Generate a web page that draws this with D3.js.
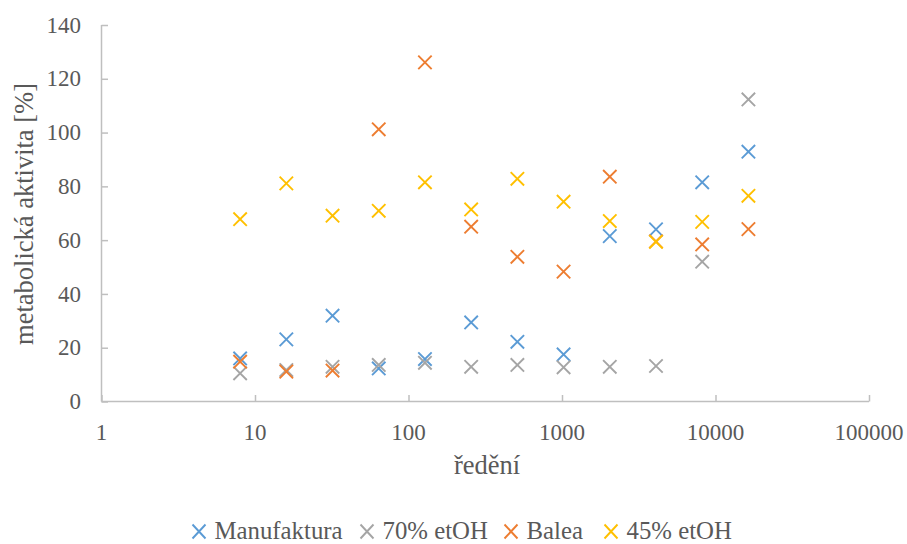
<!DOCTYPE html>
<html>
<head>
<meta charset="utf-8">
<script src="https://cdn.jsdelivr.net/npm/d3@7/dist/d3.min.js"></script>
<style>
  html, body { margin: 0; padding: 0; background: #fff; }
  svg { display: block; }
  text { font-family: "Liberation Serif", "Times New Roman", serif; fill: #595959; }
</style>
</head>
<body>
<svg id="chart" width="907" height="544"></svg>
<script>
// Dilution factors (x) and metabolic activity in % (y) per sample
const dilutions   = [8, 16, 32, 64, 128, 256, 512, 1024, 2048, 4096, 8192, 16384];
const manufaktura = [16.0, 23.1, 31.9, 12.3, 15.8, 29.4, 22.2, 17.5, 61.5, 64.0, 81.5, 92.9];
const etoh70      = [10.5, 11.7, 12.9, 13.6, 14.4, 12.9, 13.6, 12.7, 12.9, 13.2, 52.0, 112.3];
const balea       = [14.8, 11.1, 11.5, 101.2, 126.1, 65.0, 53.8, 48.3, 83.6, 59.5, 58.4, 64.1];
const etoh45      = [67.8, 81.1, 69.1, 70.9, 81.5, 71.4, 82.8, 74.3, 67.1, 59.4, 66.8, 76.5];

const seriesNames  = ["Manufaktura", "70% etOH", "Balea", "45% etOH"];
const seriesColors = ["#5B9BD5", "#A5A5A5", "#ED7D31", "#FFC000"];
const seriesValues = [manufaktura, etoh70, balea, etoh45];

const xTicks = [1, 10, 100, 1000, 10000, 100000];
const yTicks = [0, 20, 40, 60, 80, 100, 120, 140];

const svg = d3.select("#chart");
const x = d3.scaleLog().domain([1, 100000]).range([101.5, 869]);
const y = d3.scaleLinear().domain([0, 140]).range([401.5, 25]);

const axisColor = "#BFBFBF";
const tickFont = "23px";
const titleFont = "26.5px";
const legendFont = "24.8px";

// y axis: line, inward ticks, labels
const yAxis = svg.append("g").attr("transform", `translate(${x.range()[0]},0)`)
  .call(d3.axisRight(y).tickValues(yTicks).tickSize(6.5).tickFormat(""));
yAxis.select(".domain").remove();
yAxis.selectAll("line").attr("stroke", axisColor).attr("stroke-width", 1.5);
svg.append("line")
  .attr("x1", x.range()[0]).attr("x2", x.range()[0])
  .attr("y1", y(140)).attr("y2", y(0))
  .attr("stroke", axisColor).attr("stroke-width", 1.5);
svg.append("g").selectAll("text").data(yTicks).join("text")
  .attr("x", 81).attr("y", d => y(d))
  .attr("dy", "0.33em")
  .attr("text-anchor", "end")
  .style("font-size", tickFont)
  .text(d => d);

// x axis: line, inward ticks, labels
const xAxis = svg.append("g").attr("transform", `translate(0,${y.range()[0]})`)
  .call(d3.axisTop(x).tickValues(xTicks).tickSize(6.5).tickFormat(""));
xAxis.select(".domain").remove();
xAxis.selectAll("line").attr("stroke", axisColor).attr("stroke-width", 1.5);
svg.append("line")
  .attr("x1", x.range()[0]).attr("x2", x.range()[1])
  .attr("y1", y(0)).attr("y2", y(0))
  .attr("stroke", axisColor).attr("stroke-width", 1.5);
svg.append("g").selectAll("text").data(xTicks).join("text")
  .attr("x", d => x(d)).attr("y", 440)
  .attr("text-anchor", "middle")
  .style("font-size", tickFont)
  .text(d => d);

// axis titles
svg.append("text")
  .attr("x", 487).attr("y", 474)
  .attr("text-anchor", "middle")
  .style("font-size", titleFont)
  .text("ředění");
svg.append("text")
  .attr("transform", "translate(33,214) rotate(-90)")
  .attr("text-anchor", "middle")
  .style("font-size", titleFont)
  .text("metabolická aktivita [%]");

// cross marker path centred on 0,0
const r = 6.7;
const crossPath = `M${-r},${-r}L${r},${r}M${-r},${r}L${r},${-r}`;

// scatter series
seriesValues.forEach((vals, i) => {
  svg.append("g").selectAll("path")
    .data(dilutions.map((d, j) => [d, vals[j]]))
    .join("path")
    .attr("transform", d => `translate(${x(d[0])},${y(d[1])})`)
    .attr("d", crossPath)
    .attr("fill", "none")
    .attr("stroke", seriesColors[i])
    .attr("stroke-width", 1.9);
});

// legend
const legendX = [199, 367, 511, 611];
const legend = svg.append("g");
seriesNames.forEach((name, i) => {
  const g = legend.append("g").attr("transform", `translate(${legendX[i]},531.5)`);
  g.append("path")
    .attr("d", `M-6.5,-7L6.5,7M-6.5,7L6.5,-7`)
    .attr("fill", "none")
    .attr("stroke", seriesColors[i])
    .attr("stroke-width", 1.9);
  g.append("text")
    .attr("x", 15.5).attr("y", 7)
    .style("font-size", legendFont)
    .text(name);
});
</script>
</body>
</html>
